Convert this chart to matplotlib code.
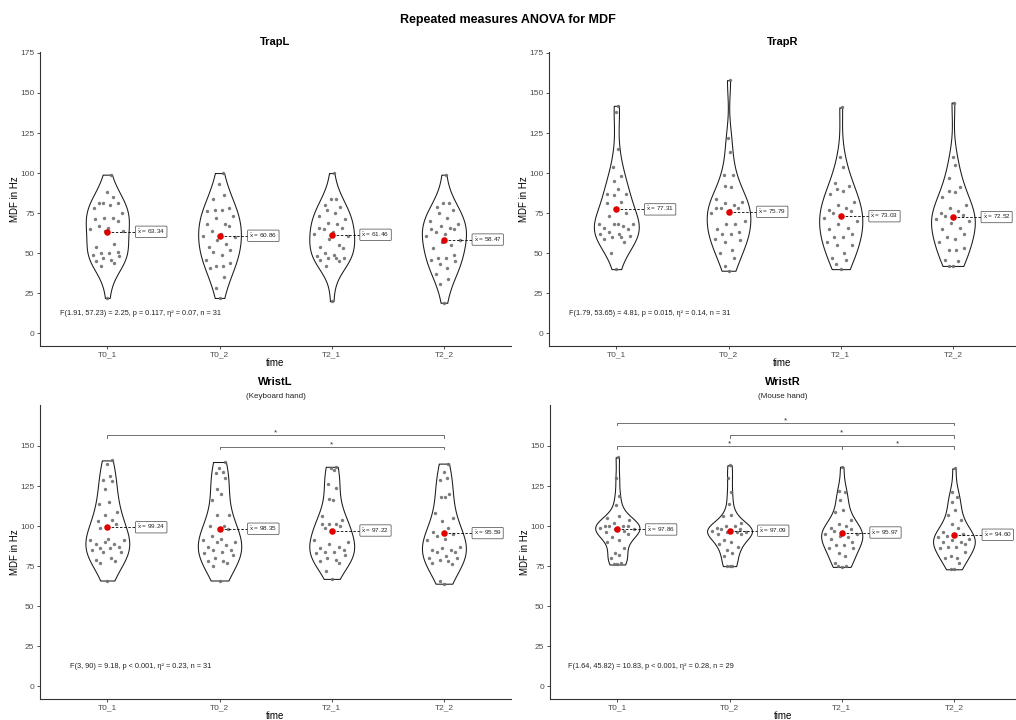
import numpy as np
import matplotlib.pyplot as plt

plt.rcParams['font.family'] = ['Liberation Sans', 'DejaVu Sans']
plt.rcParams['mathtext.fontset'] = 'custom'
plt.rcParams['mathtext.rm'] = 'Liberation Sans'
plt.rcParams['mathtext.it'] = 'Liberation Sans'

# measurement times
times = ["T0_1", "T0_2", "T2_1", "T2_2"]

# MDF in Hz per subject, one list per time
trapl_mdf = [
    [99, 88, 85, 81, 81, 81, 80, 78, 75, 72, 72, 71, 70, 67, 66, 65, 64, 64, 56, 54, 51, 50, 50, 49, 48, 47, 46, 45, 44, 42, 22],
    [100, 93, 86, 84, 78, 77, 77, 76, 73, 72, 68, 68, 67, 64, 62, 61, 60, 58, 56, 54, 52, 51, 49, 46, 44, 42, 42, 41, 35, 28, 22],
    [100, 84, 84, 80, 79, 77, 75, 73, 71, 69, 68, 66, 66, 65, 63, 62, 61, 59, 55, 54, 53, 50, 49, 48, 47, 47, 47, 46, 45, 42, 20],
    [99, 81, 81, 79, 77, 75, 72, 70, 68, 67, 66, 65, 65, 63, 62, 61, 58, 57, 55, 53, 49, 47, 47, 46, 45, 43, 41, 37, 34, 31, 19],
]
trapr_mdf = [
    [142, 138, 115, 104, 98, 95, 90, 87, 87, 86, 82, 81, 75, 73, 68, 68, 68, 68, 67, 66, 65, 63, 62, 62, 61, 60, 60, 59, 57, 50, 40],
    [158, 122, 113, 99, 99, 92, 91, 84, 82, 81, 80, 78, 78, 78, 77, 75, 70, 68, 68, 65, 63, 62, 62, 59, 58, 57, 52, 50, 47, 42, 39],
    [141, 110, 104, 94, 92, 90, 89, 87, 82, 80, 78, 77, 76, 75, 73, 72, 70, 68, 66, 65, 62, 60, 60, 57, 55, 55, 50, 47, 46, 43, 40],
    [144, 110, 105, 97, 91, 89, 88, 85, 80, 78, 76, 75, 74, 73, 72, 71, 70, 69, 66, 65, 62, 60, 59, 57, 53, 52, 52, 46, 45, 42, 42],
]
wristl_mdf = [
    [141, 139, 131, 129, 128, 123, 115, 114, 109, 107, 104, 103, 101, 99, 92, 91, 91, 90, 89, 89, 87, 86, 86, 85, 84, 84, 80, 79, 78, 77, 66],
    [140, 136, 134, 133, 130, 123, 120, 116, 107, 107, 100, 100, 98, 94, 92, 91, 90, 90, 88, 87, 85, 85, 84, 83, 82, 80, 78, 78, 77, 75, 66],
    [137, 136, 135, 126, 124, 117, 116, 106, 104, 101, 101, 101, 100, 99, 97, 91, 90, 89, 87, 86, 85, 84, 84, 83, 82, 80, 79, 78, 77, 72, 67],
    [139, 134, 130, 129, 120, 118, 118, 108, 105, 103, 99, 96, 95, 94, 92, 91, 87, 86, 85, 85, 84, 84, 81, 80, 80, 79, 78, 77, 76, 66, 64],
]
wristr_mdf = [
    [143, 130, 119, 113, 106, 105, 104, 102, 100, 100, 100, 100, 99, 99, 98, 98, 97, 96, 95, 93, 91, 90, 86, 83, 82, 80, 77, 76, 76],
    [138, 130, 121, 114, 107, 106, 102, 100, 100, 99, 98, 98, 97, 97, 96, 96, 96, 95, 95, 91, 90, 89, 87, 85, 83, 81, 75, 75, 75],
    [137, 122, 121, 116, 110, 109, 104, 101, 100, 99, 98, 97, 96, 95, 95, 94, 93, 92, 90, 88, 88, 86, 86, 83, 81, 77, 75, 75, 74.5],
    [136, 121, 118, 115, 110, 107, 104, 101, 99, 96, 95, 94, 94, 93, 92, 91, 90, 90, 89, 87, 87, 86, 84, 81, 80, 80, 77, 73, 73],
]

# group means shown in the labels
trapl_means = [63.34, 60.86, 61.46, 58.47]
trapr_means = [77.31, 75.79, 73.03, 72.52]
wristl_means = [99.24, 98.35, 97.22, 95.59]
wristr_means = [97.86, 97.09, 95.97, 94.60]

# ANOVA results
trapl_stats = "F(1.91, 57.23) = 2.25, p = 0.117, η² = 0.07, n = 31"
trapr_stats = "F(1.79, 53.65) = 4.81, p = 0.015, η² = 0.14, n = 31"
wristl_stats = "F(3, 90) = 9.18, p < 0.001, η² = 0.23, n = 31"
wristr_stats = "F(1.64, 45.82) = 10.83, p < 0.001, η² = 0.28, n = 29"

# significant pairwise comparisons (index pairs into times) and bracket heights
wristl_pairs = [(0, 3), (1, 3)]
wristl_bracket_y = [156.8, 149.6]
wristr_pairs = [(0, 3), (1, 3), (0, 2), (2, 3)]
wristr_bracket_y = [164.3, 156.8, 149.7, 149.7]

W, H = 1016, 720
PX_PER_CAT = 112.2
HALF_W = 0.2
BW_ADJUST = 1.35


def rect(l, t, r, b):
    return [l / W, 1 - b / H, (r - l) / W, (b - t) / H]


def nrd0(v):
    v = np.asarray(v, float)
    sd = v.std(ddof=1)
    iqr = np.subtract(*np.percentile(v, [75, 25]))
    return 0.9 * min(sd, iqr / 1.34) * len(v) ** -0.2


def kde(v, grid):
    v = np.asarray(v, float)
    bw = nrd0(v) * BW_ADJUST
    z = (grid[:, None] - v[None, :]) / bw
    return np.exp(-0.5 * z ** 2).sum(axis=1) / (len(v) * bw * np.sqrt(2 * np.pi))


def vdc(n):
    # van der Corput sequence, base 2
    out = []
    for i in range(1, n + 1):
        x, denom, k = 0.0, 1.0, i
        while k:
            denom *= 2
            k, rem = divmod(k, 2)
            x += rem / denom
        out.append(x)
    return np.array(out)


def panel(axr, title, subtitle, data, means, stats, yticks, pairs=(), bracket_y=()):
    l, t, r, b = axr
    ax = fig.add_axes(rect(l, t, r, b))
    xr = 0.4 + (r - l) / PX_PER_CAT
    ax.set_xlim(0.4, xr)
    ax.set_ylim(-8, 175.6)

    grids = [np.linspace(min(v), max(v), 400) for v in data]
    dens = [kde(v, g) for v, g in zip(data, grids)]
    dmax = max(d.max() for d in dens)

    for i, (v, g, d) in enumerate(zip(data, grids, dens)):
        c = i + 1
        # each violin keeps most of its own width, a little of the area scaling
        hw = d / d.max() * HALF_W * (d.max() / dmax) ** 0.3
        ax.fill_betweenx(g, c - hw, c + hw, facecolor='white',
                         edgecolor='#1a1a1a', lw=0.75, zorder=2)
        # quasirandom spread of the points inside the violin
        v = np.asarray(v, float)
        order = np.argsort(np.argsort(v, kind='stable'), kind='stable')
        q = vdc(len(v))[order]
        spread = np.interp(v, g, hw) * 0.85
        xs = c + (q - 0.5) * 2 * spread
        ax.scatter(xs, v, s=6, color='#6f6f6f', alpha=0.9, lw=0, zorder=3)

        m = means[i]
        ax.plot([c, c + 0.25], [m, m], ls=(0, (3, 2)), color='black', lw=0.6, zorder=3)
        ax.scatter([c], [m], s=22, color='#e00000', lw=0, zorder=4)
        ax.text(c + 0.265, m, r'$\bar{\mathrm{x}}$' + ' = %.2f' % m, ha='left', va='center',
                fontsize=4.6, color='#222222', zorder=5,
                bbox=dict(boxstyle='round,pad=0.25,rounding_size=0.12', fc='white',
                          ec='#444444', lw=0.5))

    for (a, bb), y in zip(pairs, bracket_y):
        x1, x2 = a + 1, bb + 1
        ax.plot([x1, x1, x2, x2], [y - 1.5, y, y, y - 1.5], color='#707070', lw=0.7, zorder=2)
        ax.text((x1 + x2) / 2, y + 0.4, '*', ha='center', va='baseline',
                fontsize=6, color='#333333')

    ax.text(1.3, 12, stats, ha='center', va='center', fontsize=5.3, color='#222222')

    ax.set_xticks(range(1, 5))
    ax.set_xticklabels(times)
    ax.set_yticks(yticks)
    for s in ('top', 'right'):
        ax.spines[s].set_visible(False)
    for s in ('left', 'bottom'):
        ax.spines[s].set_color('#333333')
        ax.spines[s].set_linewidth(0.8)
    ax.tick_params(length=2.5, width=0.6, color='#333333', labelsize=6,
                   labelcolor='#4d4d4d', pad=1.5)

    cx = (l + r) / 2
    title_y = t - 23 if subtitle else t - 10
    fig.text(cx / W, 1 - title_y / H, title, ha='center', va='center',
             fontsize=8, fontweight='bold')
    if subtitle:
        fig.text(cx / W, 1 - (t - 9) / H, subtitle, ha='center', va='center',
                 fontsize=5.8, color='#222222')
    fig.text(cx / W, 1 - (b + 17) / H, 'time', ha='center', va='center', fontsize=7)
    fig.text((l - 25) / W, 1 - ((t + b) / 2) / H, 'MDF in Hz', ha='center',
             va='center', rotation=90, fontsize=7)
    return ax


fig = plt.figure(figsize=(W / 100, H / 100), dpi=100)
fig.text(0.5, 1 - 20 / H, 'Repeated measures ANOVA for MDF', ha='center',
         va='center', fontsize=9, fontweight='bold')

ticks_top = [0, 25, 50, 75, 100, 125, 150, 175]
ticks_bot = [0, 25, 50, 75, 100, 125, 150]

panel((40, 52, 511, 346), 'TrapL', None, trapl_mdf, trapl_means, trapl_stats, ticks_top)
panel((549, 52, 1016, 346), 'TrapR', None, trapr_mdf, trapr_means, trapr_stats, ticks_top)
panel((40, 405, 511, 699), 'WristL', '(Keyboard hand)', wristl_mdf, wristl_means,
      wristl_stats, ticks_bot, wristl_pairs, wristl_bracket_y)
panel((550, 405, 1016, 699), 'WristR', '(Mouse hand)', wristr_mdf, wristr_means,
      wristr_stats, ticks_bot, wristr_pairs, wristr_bracket_y)

fig.savefig('out.png', dpi=100)
